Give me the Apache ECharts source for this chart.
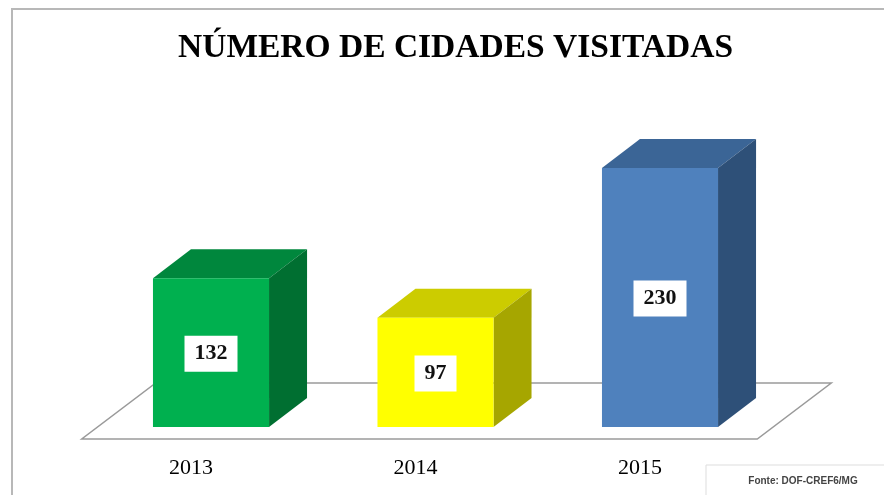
<!DOCTYPE html>
<html>
<head>
<meta charset="utf-8">
<script src="https://cdn.jsdelivr.net/npm/echarts@6/dist/echarts.min.js"></script>
<style>
html, body { margin: 0; padding: 0; background: #fff; }
#chart { width: 884px; height: 495px; }
</style>
</head>
<body>
<div id="chart"></div>
<script>
// dados
var anos = ['2013', '2014', '2015'];
var cidades = [132, 97, 230];
var coresFrente = ['#00B04F', '#FFFF00', '#4F81BD'];
var coresTopo = ['#00873D', '#CCCC00', '#3B6596'];
var coresLado = ['#006F31', '#A6A600', '#2E5078'];

var myChart = echarts.init(document.getElementById('chart'));

// profundidade do efeito 3D (px)
var dx = 38, dy = 29;

function desenhaBarra(params, api) {
	var i = api.value(0);
	var base = api.coord([i, 0]);
	var topo = api.coord([i, api.value(1)]);
	var w = api.size([1, 0])[0] * 0.517;
	var x0 = base[0] - w / 2;
	var yt = topo[1], yb = base[1];
	return {
		type: 'group',
		children: [{
			type: 'polygon',
			shape: { points: [[x0, yt], [x0 + dx, yt - dy], [x0 + w + dx, yt - dy], [x0 + w, yt]] },
			style: { fill: coresTopo[i] }
		}, {
			type: 'polygon',
			shape: { points: [[x0 + w, yt], [x0 + w + dx, yt - dy], [x0 + w + dx, yb - dy], [x0 + w, yb]] },
			style: { fill: coresLado[i] }
		}, {
			type: 'rect',
			shape: { x: x0, y: yt, width: w, height: yb - yt },
			style: { fill: coresFrente[i] }
		}, {
			type: 'text',
			style: {
				text: String(api.value(1)),
				x: base[0], y: (yt + yb) / 2 + 1,
				align: 'center', verticalAlign: 'middle',
				font: 'bold 22px "Liberation Serif"',
				fill: '#111',
				backgroundColor: '#fff',
				padding: [7, 10]
			}
		}]
	};
}

function desenhaPiso(params, api) {
	var a = api.coord([0, 0]);
	var b = api.coord([anos.length - 1, 0]);
	var band = api.size([1, 0])[0];
	var esq = a[0] - band / 2 - 17;
	var dir = b[0] + band / 2 - 15;
	var yf = a[1] + 12;
	return {
		type: 'polygon',
		shape: { points: [[esq, yf], [dir, yf], [dir + 74, yf - 56], [esq + 74, yf - 56]] },
		style: { fill: '#fff', stroke: '#9a9a9a', lineWidth: 1.5 }
	};
}

var option = {
	backgroundColor: '#fff',
	animation: false,
	title: {
		text: 'NÚMERO DE CIDADES VISITADAS',
		left: 178,
		top: 31,
		padding: 0,
		textStyle: {
			fontFamily: 'Liberation Serif',
			fontWeight: 'bold',
			fontSize: 33.5,
			color: '#000'
		}
	},
	grid: { left: 98.75, width: 673.5, top: 89.2, height: 337.8 },
	xAxis: {
		type: 'category',
		data: anos,
		axisLine: { show: false },
		axisTick: { show: false },
		axisLabel: {
			margin: 30,
			fontFamily: 'Liberation Serif',
			fontSize: 22,
			color: '#000',
			padding: [0, 40, 0, 0]
		}
	},
	yAxis: {
		type: 'value',
		min: 0,
		max: 300,
		show: false
	},
	graphic: [{
		type: 'polyline',
		shape: { points: [[12, 495], [12, 9], [884, 9]] },
		style: { stroke: '#b8b8b8', lineWidth: 2, fill: null }
	}, {
		type: 'rect',
		shape: { x: 706, y: 465, width: 190, height: 40 },
		style: { fill: '#fff', stroke: '#dddddd', lineWidth: 1 }
	}, {
		type: 'text',
		x: 803, y: 481,
		style: {
			text: 'Fonte: DOF-CREF6/MG',
			align: 'center', verticalAlign: 'middle',
			font: 'bold 10px "Liberation Sans"',
			fill: '#444'
		}
	}],
	series: [{
		type: 'custom',
		renderItem: desenhaPiso,
		data: [[0, 0]],
		z: 1,
		silent: true
	}, {
		type: 'custom',
		renderItem: desenhaBarra,
		data: anos.map(function (a, i) { return [i, cidades[i]]; }),
		z: 2
	}]
};

myChart.setOption(option);
</script>
</body>
</html>
